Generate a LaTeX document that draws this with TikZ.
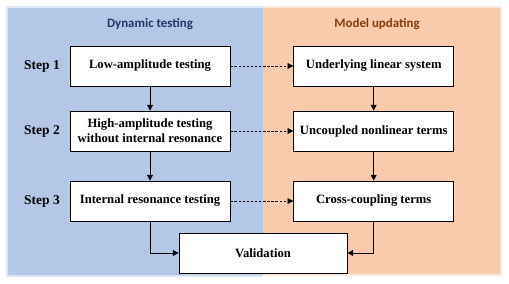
\documentclass[tikz,border=0pt]{standalone}
\usepackage{fontspec}
\setmainfont{Liberation Serif}
\newfontfamily\titlefont{Carlito}
\usetikzlibrary{arrows.meta,positioning}
\definecolor{panelBlue}{RGB}{180,199,231}
\definecolor{panelOrange}{RGB}{248,203,173}
\definecolor{titleBlue}{RGB}{31,56,100}
\definecolor{titleBrown}{RGB}{132,60,12}
\tikzset{
  stepbox/.style={draw=black,fill=white,line width=0.6pt,minimum width=4.8cm,
    minimum height=1.2cm,inner sep=2pt,align=center,
    font=\bfseries\fontsize{10.8}{12.5}\selectfont},
  steplabel/.style={font=\bfseries\fontsize{11.5}{12}\selectfont},
  paneltitle/.style={font=\titlefont\bfseries\fontsize{11}{12}\selectfont},
  flow/.style={-{Triangle[length=5pt,width=5pt]},line width=0.6pt},
  link/.style={flow,dash pattern=on 2pt off 1.5pt}
}
\begin{document}
\begin{tikzpicture}[x=0.03cm,y=-0.03cm]
  \useasboundingbox[fill=white] (0,0) rectangle (509,284);
  % panels
  \fill[panelBlue!45] (6,6) rectangle (263,277);
  \fill[panelOrange!45] (263,6) rectangle (502,276);
  \fill[panelBlue] (8,8) rectangle (263,275);
  \fill[panelOrange] (263,8) rectangle (500,274);
  \node[paneltitle,titleBlue] (dyntitle) at (150,24) {Dynamic testing};
  \node[paneltitle,titleBrown] (modtitle) at (377,24) {Model updating};
  % left column
  \node[stepbox] (lowamp) at (150,66) {Low-amplitude testing};
  \node[stepbox] (highamp) at (150,131) {High-amplitude testing\\without internal resonance};
  \node[stepbox] (intres) at (150,201) {Internal resonance testing};
  \node[steplabel] (step1) at (42,66) {Step 1};
  \node[steplabel] (step2) at (42,131) {Step 2};
  \node[steplabel] (step3) at (42,201) {Step 3};
  % right column
  \node[stepbox,right=1.89cm of lowamp] (linsys) {Underlying linear system};
  \node[stepbox,right=1.89cm of highamp] (uncoup) {Uncoupled nonlinear terms};
  \node[stepbox,right=1.89cm of intres] (crosscoup) {Cross-coupling terms};
  \node[stepbox,minimum width=5.04cm] (valid) at (263,253) {Validation};
  % connectors
  \draw[flow] (lowamp) -- (highamp);
  \draw[flow] (highamp) -- (intres);
  \draw[flow] (linsys) -- (uncoup);
  \draw[flow] (uncoup) -- (crosscoup);
  \draw[link] (lowamp) -- (linsys);
  \draw[link] (highamp) -- (uncoup);
  \draw[link] (intres) -- (crosscoup);
  \draw[flow] (intres.south) |- (valid.west);
  \draw[flow] (crosscoup.south) |- (valid.east);
\end{tikzpicture}
\end{document}
